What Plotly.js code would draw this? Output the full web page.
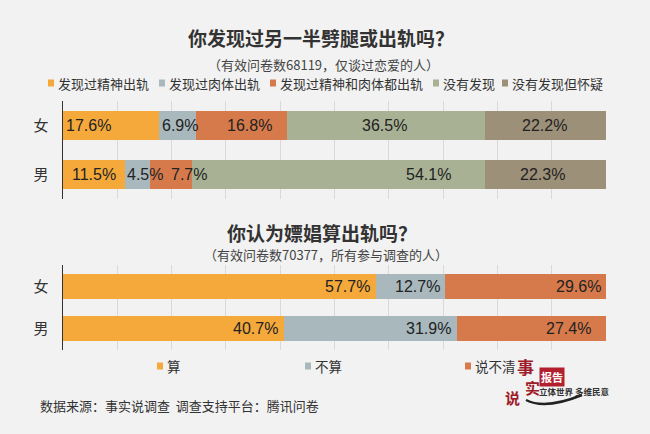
<!DOCTYPE html>
<html>
<head>
<meta charset="utf-8">
<script src="https://cdn.plot.ly/plotly-3.0.1.min.js"></script>
<style>html,body{margin:0;padding:0;background:#f2f2f2;}#chart{width:650px;height:434px;}</style>
</head>
<body>
<div id="chart"></div>
<script>
// ---- data ----
const genders = ['女', '男'];
const q1Title = '你发现过另一半劈腿或出轨吗？';
const q1Sub = '（有效问卷数68119，仅谈过恋爱的人）';
const q1Series = ['发现过精神出轨', '发现过肉体出轨', '发现过精神和肉体都出轨', '没有发现', '没有发现但怀疑'];
const q1Female = [17.6, 6.9, 16.8, 36.5, 22.2];
const q1Male = [11.5, 4.5, 7.7, 54.1, 22.3];
const q2Title = '你认为嫖娼算出轨吗？';
const q2Sub = '（有效问卷数70377，所有参与调查的人）';
const q2Series = ['算', '不算', '说不清'];
const q2Female = [57.7, 12.7, 29.6];
const q2Male = [40.7, 31.9, 27.4];
const sourceText = '数据来源：事实说调查  调查支持平台：腾讯问卷';

// ---- styles ----
const colorsQ1 = ['#F5A93B', '#A9B8BD', '#D77A4B', '#A8B194', '#9C9079'];
const colorsQ2 = ['#F5A93B', '#A9B8BD', '#D77A4B'];
const q1FemalePos = [0.27, 0.57, 0.59, 0.49, 0.49];
const q1MalePos = [0.49, 0.80, 0.94, 0.806, 0.475];
const q2FemalePos = [0.908, 0.59, 0.826];
const q2MalePos = [0.869, 0.837, 0.745];
const q1LegendX = [48, 159, 270, 433, 502];
const q2LegendX = [157, 305, 465];

const W = 650, H = 434;
const px = x => x / W;
const py = y => 1 - y / H;
const CJK = '"Noto Sans CJK SC", "Noto Sans", sans-serif';
const NUM = '"Liberation Sans", Arial, sans-serif';

const traces = [];
const annotations = [];
const shapes = [];

function addChart(series, fem, male, colors, fPos, mPos, xa, ya) {
  let cumF = 0, cumM = 0;
  series.forEach((name, i) => {
    traces.push({
      type: 'bar', orientation: 'h', name: name,
      x: [fem[i], male[i]], y: genders,
      xaxis: xa, yaxis: ya,
      marker: {color: colors[i], line: {width: 0}},
      hoverinfo: 'name+x', showlegend: false
    });
    annotations.push({
      xref: xa, yref: ya, x: cumF + fem[i] * fPos[i], y: genders[0],
      text: fem[i].toFixed(1) + '%', showarrow: false, xanchor: 'center',
      font: {family: NUM, size: 16, color: '#222'}
    });
    annotations.push({
      xref: xa, yref: ya, x: cumM + male[i] * mPos[i], y: genders[1],
      text: male[i].toFixed(1) + '%', showarrow: false, xanchor: 'center',
      font: {family: NUM, size: 16, color: '#222'}
    });
    cumF += fem[i];
    cumM += male[i];
  });
}
addChart(q1Series, q1Female, q1Male, colorsQ1, q1FemalePos, q1MalePos, 'x', 'y');
addChart(q2Series, q2Female, q2Male, colorsQ2, q2FemalePos, q2MalePos, 'x2', 'y2');

function addLegend(series, colors, xs, ycenter, fsize) {
  series.forEach((name, i) => {
    shapes.push({type: 'rect', xref: 'paper', yref: 'paper',
      x0: px(xs[i]), x1: px(xs[i] + 6), y0: py(ycenter + 3.5), y1: py(ycenter - 3.5),
      fillcolor: colors[i], line: {width: 0}});
    annotations.push({xref: 'paper', yref: 'paper', x: px(xs[i] + 8), y: py(ycenter),
      xanchor: 'left', yanchor: 'middle', text: name, showarrow: false,
      font: {family: CJK, size: fsize, color: '#333'}});
  });
}
addLegend(q1Series, colorsQ1, q1LegendX, 83, 13);
addLegend(q2Series, colorsQ2, q2LegendX, 366, 13.5);

function txt(text, x, y, size, color, bold, anchor) {
  annotations.push({xref: 'paper', yref: 'paper', x: px(x), y: py(y),
    xanchor: anchor || 'center', yanchor: 'middle', showarrow: false,
    text: bold ? '<b>' + text + '</b>' : text,
    font: {family: CJK, size: size, color: color}});
}
txt(q1Title, 321, 38, 19, '#333', true);
txt(q1Sub, 323, 64, 13, '#444', false);
txt(q2Title, 322, 233, 19, '#333', true);
txt(q2Sub, 326, 255, 13, '#444', false);
txt(sourceText, 38, 405, 13, '#333', false, 'left');

// logo
txt('事', 525, 366, 17, '#9e1b2a', true);
txt('实', 532, 387, 15, '#9e1b2a', true);
txt('说', 512, 397, 15, '#9e1b2a', true);
annotations.push({xref: 'paper', yref: 'paper', x: px(552), y: py(377), xanchor: 'center', yanchor: 'middle',
  showarrow: false, text: '<b>报告</b>', bgcolor: '#b3202d', borderpad: 1,
  font: {family: CJK, size: 11, color: '#fff'}});
txt('立体世界 多维民意', 574, 391, 8.5, '#333', true);
shapes.push({type: 'path', xref: 'paper', yref: 'paper',
  path: 'M ' + px(526) + ',' + py(400) + ' Q ' + px(545) + ',' + py(410) + ' ' + px(582) + ',' + py(395),
  line: {color: '#222', width: 2.5}});

const xAxisBase = {range: [0, 100], dtick: 10, showgrid: true, gridcolor: '#d9d9d9', gridwidth: 1,
  zeroline: false, showticklabels: false, ticks: '', showline: false, fixedrange: true};
const yAxisBase = {type: 'category', autorange: 'reversed', showline: true, linecolor: '#333', linewidth: 1.5,
  showgrid: false, ticks: 'outside', ticklen: 10, tickcolor: 'rgba(0,0,0,0)',
  tickfont: {family: CJK, size: 15, color: '#333'}, fixedrange: true};

const layout = {
  width: W, height: H,
  margin: {l: 0, r: 0, t: 0, b: 0},
  paper_bgcolor: '#f2f2f2', plot_bgcolor: '#f2f2f2',
  barmode: 'stack', bargap: 0.41,
  showlegend: false,
  xaxis: Object.assign({}, xAxisBase, {domain: [px(63), px(606)], anchor: 'y'}),
  yaxis: Object.assign({}, yAxisBase, {domain: [py(199), py(101)], anchor: 'x'}),
  xaxis2: Object.assign({}, xAxisBase, {domain: [px(63), px(606)], anchor: 'y2'}),
  yaxis2: Object.assign({}, yAxisBase, {domain: [py(350), py(265)], anchor: 'x2'}),
  annotations: annotations,
  shapes: shapes
};

Plotly.newPlot('chart', traces, layout, {displayModeBar: false, staticPlot: true});
</script>
</body>
</html>
